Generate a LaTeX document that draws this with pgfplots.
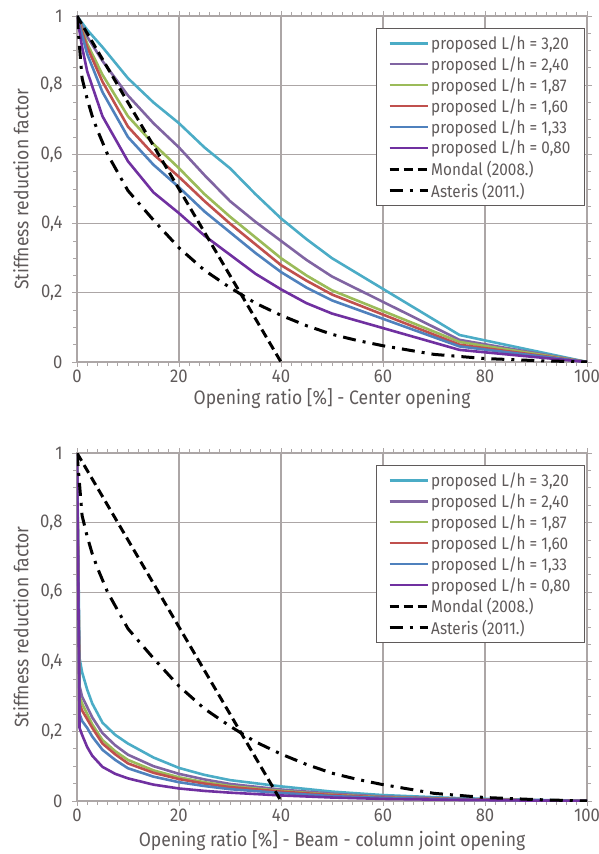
\documentclass[border=0pt]{standalone}
\usepackage{fontspec}
\setmainfont{Fira Sans}[FakeStretch=0.9]
\usepackage{pgfplots}
\pgfplotsset{compat=1.18}
\definecolor{c320}{HTML}{4BACC6}
\definecolor{c240}{HTML}{8064A2}
\definecolor{c187}{HTML}{9BBB59}
\definecolor{c160}{HTML}{C0504D}
\definecolor{c133}{HTML}{4F81BD}
\definecolor{c080}{HTML}{7030A0}
\definecolor{gridc}{RGB}{172,166,166}
\definecolor{txtc}{RGB}{95,90,90}
\pgfplotsset{
  mystyle/.style={
    scale only axis, width=510pt,
    xmin=0, xmax=100, ymin=0, ymax=1,
    xtick={0,20,40,60,80,100}, ytick={0,0.2,0.4,0.6,0.8,1},
    minor x tick num=9, minor y tick num=3,
    grid=major, major grid style={gridc, line width=1.1pt},
    axis line style={gridc, line width=1.2pt},
    tick style={gridc, line width=0.8pt},
    tick align=outside, major tick length=5pt, minor tick length=4pt,
    /pgf/number format/use comma, /pgf/number format/assume math mode=true,
    ticklabel style={font=\fontsize{18.5}{20}\selectfont, text=txtc},
    yticklabel style={/pgf/number format/fixed, xshift=-6pt},
    xticklabel style={yshift=1pt},
    label style={font=\fontsize{19.5}{22}\selectfont, text=txtc},
    ylabel={Stiffness reduction factor},
    ylabel style={at={(axis description cs:-0.11,0.5)}, anchor=center},
    legend style={at={(axis description cs:0.996,0.965)}, anchor=north east,
      draw=txtc, line width=1.1pt, fill=white,
      font=\fontsize{17}{18.5}\selectfont, text=txtc, row sep=1.7pt,
      inner xsep=12pt, inner ysep=5pt},
    legend cell align=left,
    legend image code/.code={\draw[##1] (0pt,0pt) -- (38pt,0pt);},
  },
  prop/.style={#1, line width=2.6pt},
  mondal/.style={black, line width=3pt, dash pattern=on 9pt off 5pt},
  asteris/.style={black, line width=3pt, dash pattern=on 13pt off 7pt on 3pt off 7pt},
}
\begin{document}
\begin{tikzpicture}
\useasboundingbox (-77pt,-492pt) rectangle (522pt,362pt);
% ---------------- top: centre opening ----------------
\begin{axis}[mystyle, height=346pt, at={(0pt,0pt)}, anchor=south west,
  xlabel={Opening ratio [\%] - Center opening},
  xlabel style={at={(axis description cs:0.5,-0.105)}, anchor=center}]
\addplot[prop=c320] coordinates {(0,1)(2,0.96)(5,0.91)(10,0.82)(15,0.75)(20,0.69)(25,0.62)(30,0.56)(35,0.485)(40,0.415)(45,0.355)(50,0.30)(75,0.078)(100,0)};
\addlegendentry{proposed L/h = 3,20}
\addplot[prop=c240] coordinates {(0,1)(2,0.94)(5,0.87)(10,0.77)(15,0.69)(20,0.62)(25,0.54)(30,0.465)(35,0.405)(40,0.35)(45,0.295)(50,0.247)(75,0.064)(100,0)};
\addlegendentry{proposed L/h = 2,40}
\addplot[prop=c187] coordinates {(0,1)(2,0.92)(5,0.83)(10,0.71)(15,0.63)(20,0.56)(25,0.485)(30,0.42)(35,0.36)(40,0.30)(45,0.25)(50,0.207)(75,0.058)(100,0)};
\addlegendentry{proposed L/h = 1,87}
\addplot[prop=c160] coordinates {(0,1)(2,0.91)(5,0.81)(10,0.68)(15,0.60)(20,0.535)(25,0.465)(30,0.40)(35,0.34)(40,0.28)(45,0.235)(50,0.195)(75,0.05)(100,0)};
\addlegendentry{proposed L/h = 1,60}
\addplot[prop=c133] coordinates {(0,1)(2,0.89)(5,0.78)(10,0.65)(15,0.57)(20,0.505)(25,0.435)(30,0.375)(35,0.315)(40,0.26)(45,0.215)(50,0.178)(75,0.045)(100,0)};
\addlegendentry{proposed L/h = 1,33}
\addplot[prop=c080] coordinates {(0,1)(1,0.91)(2,0.84)(5,0.71)(10,0.58)(15,0.49)(20,0.43)(25,0.365)(30,0.31)(35,0.255)(40,0.21)(45,0.17)(50,0.14)(75,0.035)(100,0)};
\addlegendentry{proposed L/h = 0,80}
\addplot[mondal] coordinates {(0,1)(40,0)};
\addlegendentry{Mondal (2008.)}
\addplot[asteris] coordinates {(0,1)(1,0.82)(2,0.76)(3,0.71)(4,0.67)(6,0.6)(10,0.495)(15,0.41)(20,0.33)(25,0.265)(30,0.215)(35,0.17)(40,0.135)(45,0.105)(50,0.08)(55,0.062)(60,0.047)(70,0.022)(80,0.01)(90,0.004)(100,0)};
\addlegendentry{Asteris (2011.)}
\end{axis}
% ---------------- bottom: beam-column joint opening ----------------
\begin{axis}[mystyle, height=348pt, at={(0pt,-439pt)}, anchor=south west,
  xlabel={Opening ratio [\%] - Beam - column joint opening},
  xlabel style={at={(axis description cs:0.5,-0.115)}, anchor=center}]
\addplot[prop=c320] coordinates {(0,1)(0.5,0.41)(1,0.37)(2,0.32)(3,0.28)(5,0.225)(7.5,0.19)(10,0.165)(15,0.125)(20,0.095)(25,0.075)(30,0.06)(40,0.042)(50,0.027)(60,0.017)(75,0.008)(100,0)};
\addlegendentry{proposed L/h = 3,20}
\addplot[prop=c240] coordinates {(0,1)(0.5,0.33)(1,0.30)(2,0.27)(3,0.24)(5,0.195)(7.5,0.16)(10,0.133)(15,0.10)(20,0.078)(25,0.062)(30,0.049)(40,0.033)(50,0.021)(60,0.013)(75,0.006)(100,0)};
\addlegendentry{proposed L/h = 2,40}
\addplot[prop=c187] coordinates {(0,1)(0.5,0.30)(1,0.28)(2,0.25)(3,0.22)(5,0.175)(7.5,0.143)(10,0.118)(15,0.088)(20,0.068)(25,0.054)(30,0.043)(40,0.029)(50,0.018)(60,0.011)(75,0.005)(100,0)};
\addlegendentry{proposed L/h = 1,87}
\addplot[prop=c160] coordinates {(0,1)(0.5,0.28)(1,0.26)(2,0.235)(3,0.21)(5,0.165)(7.5,0.134)(10,0.108)(15,0.081)(20,0.063)(25,0.05)(30,0.04)(40,0.027)(50,0.017)(60,0.010)(75,0.005)(100,0)};
\addlegendentry{proposed L/h = 1,60}
\addplot[prop=c133] coordinates {(0,1)(0.5,0.25)(1,0.23)(2,0.21)(3,0.185)(5,0.147)(7.5,0.118)(10,0.094)(15,0.07)(20,0.054)(25,0.043)(30,0.034)(40,0.023)(50,0.014)(60,0.009)(75,0.004)(100,0)};
\addlegendentry{proposed L/h = 1,33}
\addplot[prop=c080] coordinates {(0,1)(0.5,0.21)(1,0.19)(2,0.155)(3,0.13)(5,0.098)(7.5,0.078)(10,0.065)(15,0.047)(20,0.036)(25,0.029)(30,0.024)(40,0.016)(50,0.01)(60,0.006)(75,0.003)(100,0)};
\addlegendentry{proposed L/h = 0,80}
\addplot[mondal] coordinates {(0,1)(40,0)};
\addlegendentry{Mondal (2008.)}
\addplot[asteris] coordinates {(0,1)(1,0.82)(2,0.76)(3,0.71)(4,0.67)(6,0.6)(10,0.495)(15,0.41)(20,0.33)(25,0.265)(30,0.215)(35,0.17)(40,0.135)(45,0.105)(50,0.08)(55,0.062)(60,0.047)(70,0.022)(80,0.01)(90,0.004)(100,0)};
\addlegendentry{Asteris (2011.)}
\end{axis}
\end{tikzpicture}
\end{document}
